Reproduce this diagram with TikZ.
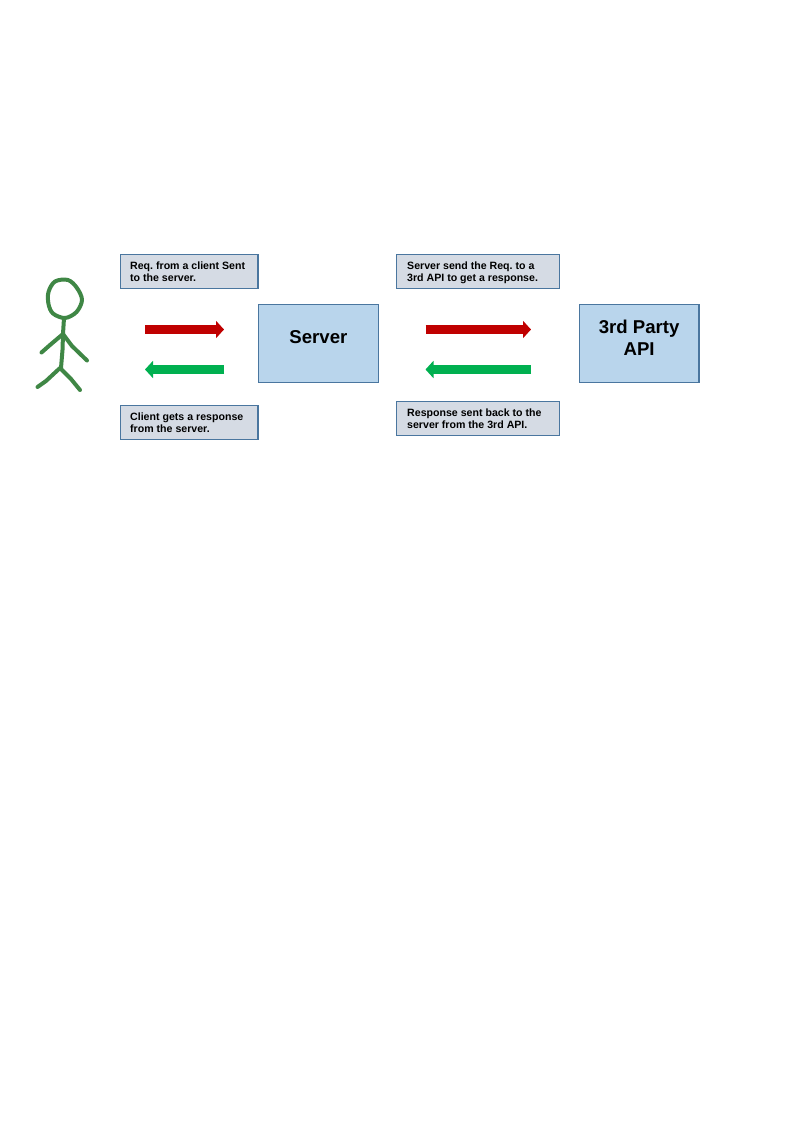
\documentclass[tikz,border=0pt]{standalone}
\usepackage{fontspec}
\setmainfont{Liberation Sans}
\usetikzlibrary{arrows.meta}
\definecolor{boxblue}{HTML}{B9D5EC}
\definecolor{boxgrey}{HTML}{D5DBE4}
\definecolor{edgeblue}{HTML}{4A769F}
\definecolor{redarrow}{HTML}{C00000}
\definecolor{greenarrow}{HTML}{00B050}
\definecolor{figgreen}{HTML}{3F8745}
\tikzset{
  x=1pt,y=-1pt,
  bigbox/.style={draw=edgeblue,fill=boxblue,line width=1.2pt,outer sep=0pt,minimum width=119.8pt,minimum height=78.6pt,inner sep=0pt,align=center,anchor=north west,font=\fontsize{18.6}{22}\selectfont\bfseries,text=black},
  notebox/.style={draw=edgeblue,fill=boxgrey,line width=1.2pt,outer sep=0pt,minimum height=34.6pt,inner sep=0pt,anchor=north west},
  notetext/.style={anchor=north west,inner sep=0pt,align=left,font=\fontsize{10.6}{12}\selectfont\bfseries\frenchspacing,text=black},
  blockarrow/.style={-{Triangle[length=8pt,width=17pt]},line width=9pt},
  figline/.style={draw=figgreen,line width=4pt,line cap=round,line join=round}
}
\begin{document}
\begin{tikzpicture}
\useasboundingbox (0,0) rectangle (794,1123);
\fill[white] (0,0) rectangle (794,1123);
% big boxes
\node[bigbox] (server) at (258.5,304.2) {\raisebox{13pt}{Server}};
\node[bigbox] (api) at (579.2,304.2) {\raisebox{24pt}{\begin{tabular}{@{}c@{}}3rd Party\\API\end{tabular}}};
% note boxes
\node[notebox,minimum width=137.6pt] (n1) at (120.3,254.2) {};
\node[notetext] (t1) at (130,261.6) {Req. from a client Sent\\to the server.};
\node[notebox,minimum width=137.6pt] (n2) at (120.3,405.2) {};
\node[notetext] (t2) at (130,412.6) {Client gets a response\\from the server.};
\node[notebox,minimum width=162.6pt] (n3) at (396.8,254.2) {};
\node[notetext] (t3) at (407,261.6) {Server send the Req. to a\\3rd API to get a response.};
\node[notebox,minimum width=162.6pt] (n4) at (396.8,401.2) {};
\node[notetext] (t4) at (407,408.6) {Response sent back to the\\server from the 3rd API.};
% arrows
\coordinate (ra1) at (145,329.5); \coordinate (ra2) at (224,329.5);
\coordinate (ga1) at (224,369.5); \coordinate (ga2) at (145,369.5);
\coordinate (rb1) at (425.5,329.5); \coordinate (rb2) at (531,329.5);
\coordinate (gb1) at (531,369.5); \coordinate (gb2) at (425.5,369.5);
\draw[blockarrow,draw=redarrow] (ra1) -- (ra2);
\draw[blockarrow,draw=greenarrow] (ga1) -- (ga2);
\draw[blockarrow,draw=redarrow] (rb1) -- (rb2);
\draw[blockarrow,draw=greenarrow] (gb1) -- (gb2);
% stick figure
\draw[figline] plot[smooth cycle,tension=0.55] coordinates {(55,281.5) (68,280) (77,288) (82,300) (76.5,312) (65,318) (53,313.5) (48.5,304) (48.5,292)};
\draw[figline] (64,318) -- (63,334) -- (62.5,350) -- (61,368);
\draw[figline] (41.5,352.5) -- (50,345) -- (63,334) -- (72,346) -- (87,360.5);
\draw[figline] (37.5,387) -- (46,381) -- (60,368) -- (71,379) -- (80,390);
\end{tikzpicture}
\end{document}
